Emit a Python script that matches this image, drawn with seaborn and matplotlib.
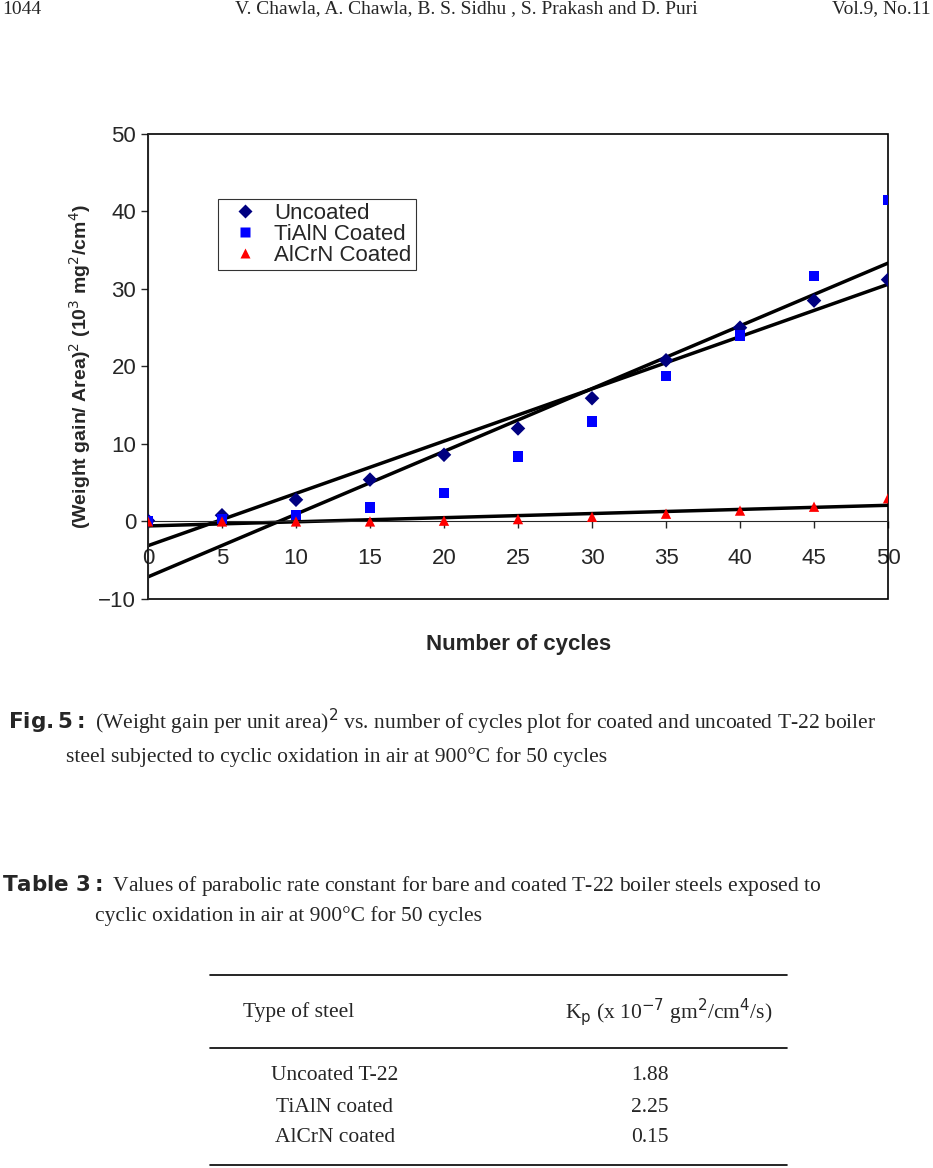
import matplotlib.pyplot as plt
import seaborn as sns
import numpy as np
import pandas as pd
from matplotlib.patches import Rectangle

cycles = [0, 5, 10, 15, 20, 25, 30, 35, 40, 45, 50]
uncoated = [0.1, 0.8, 2.8, 5.4, 8.6, 12.0, 15.9, 20.8, 25.0, 28.5, 31.2]
tialn = [0.1, 0.3, 0.8, 1.8, 3.7, 8.4, 12.9, 18.8, 24.0, 31.7, 41.5]
alcrn = [0.0, 0.0, 0.0, 0.0, 0.1, 0.3, 0.6, 1.0, 1.4, 1.9, 3.0]
series_names = ['Uncoated', 'TiAlN Coated', 'AlCrN Coated']
steels = ['Uncoated T-22', 'TiAlN coated', 'AlCrN coated']
kp = ['1.88', '2.25', '0.15']

df = pd.DataFrame({'cycles': cycles * 3,
                   'value': uncoated + tialn + alcrn,
                   'series': np.repeat(series_names, len(cycles))})

sns.set_style('white')
plt.rcParams['font.family'] = ['Liberation Sans', 'DejaVu Sans']

fig = plt.figure(figsize=(9.33, 11.68), dpi=100)
ax = fig.add_axes([0.1586, 0.4872, 0.7932, 0.3981])

sns.scatterplot(data=df, x='cycles', y='value', hue='series', style='series',
                palette=['#000080', '#0000FF', '#FF0000'], markers=['D', 's', '^'],
                s=55, edgecolor='none', ax=ax, zorder=3)

# linear trendlines
for vals in [uncoated, tialn, alcrn]:
    k, b = np.polyfit(cycles, vals, 1)
    xs = np.array([0, 50])
    ax.plot(xs, k * xs + b, color='black', lw=2.5, zorder=2)

ax.set_xlim(0, 50)
ax.set_ylim(-10, 50)
ax.set_yticks([-10, 0, 10, 20, 30, 40, 50])
ax.set_xticks(cycles)
ax.spines['bottom'].set_position(('data', 0))
for s in ['top', 'right']:
    ax.spines[s].set_visible(False)
ax.add_patch(Rectangle((0, 0), 1, 1, transform=ax.transAxes, fill=False,
                       ec='black', lw=1.2, clip_on=False))
ax.tick_params(axis='both', direction='out', length=5, width=1, labelsize=16,
               bottom=True, left=True)
ax.tick_params(axis='x', pad=14)
ax.set_xlabel('')
ax.set_ylabel('(Weight gain/ Area)$^2$ (10$^3$ mg$^2$/cm$^4$)', fontsize=14,
              fontweight='bold')
fig.text(0.556, 0.448, 'Number of cycles', ha='center', va='center',
         fontsize=16, fontweight='bold')

leg = ax.legend(loc='upper left', bbox_to_anchor=(0.08, 0.885), fontsize=16,
                frameon=True, fancybox=False, edgecolor='black',
                handletextpad=0.3, labelspacing=0.0, borderpad=0.2)
leg.get_frame().set_linewidth(0.8)

serif = ['Liberation Serif', 'DejaVu Serif']
def txt(x, y, s, **kw):
    kw.setdefault('fontsize', 15)
    fig.text(x / 933, 1 - y / 1168, s, family=serif, va='center', **kw)

txt(2, 9, '1044', fontsize=14)
txt(466, 9, 'V. Chawla, A. Chawla, B. S. Sidhu , S. Prakash and D. Puri', ha='center', fontsize=14)
txt(931, 9, 'Vol.9, No.11', ha='right', fontsize=14)

txt(8, 722, r'$\bf{Fig.5:}$ (Weight gain per unit area)$^2$ vs. number of cycles plot for coated and uncoated T-22 boiler', fontsize=15.5)
txt(66, 757, 'steel subjected to cyclic oxidation in air at 900°C for 50 cycles', fontsize=15.5)
txt(2, 886, r'$\bf{Table\ 3:}$ Values of parabolic rate constant for bare and coated T-22 boiler steels exposed to', fontsize=15.5)
txt(95, 916, 'cyclic oxidation in air at 900°C for 50 cycles', fontsize=15.5)

for yl in [975, 1048, 1165]:
    fig.add_artist(plt.Line2D([210 / 933, 787 / 933], [1 - yl / 1168] * 2,
                              color='black', lw=1.2))
txt(243, 1012, 'Type of steel', fontsize=15.5)
txt(565, 1012, 'K$_\\mathrm{p}$ (x 10$^{-7}$ gm$^2$/cm$^4$/s)', fontsize=15.5)
for i, (st, k) in enumerate(zip(steels, kp)):
    y = 1076 + 31 * i
    txt(335, y, st, ha='center', fontsize=15.5)
    txt(650, y, k, ha='center', fontsize=15.5)

fig.savefig('out.png', dpi=100)
